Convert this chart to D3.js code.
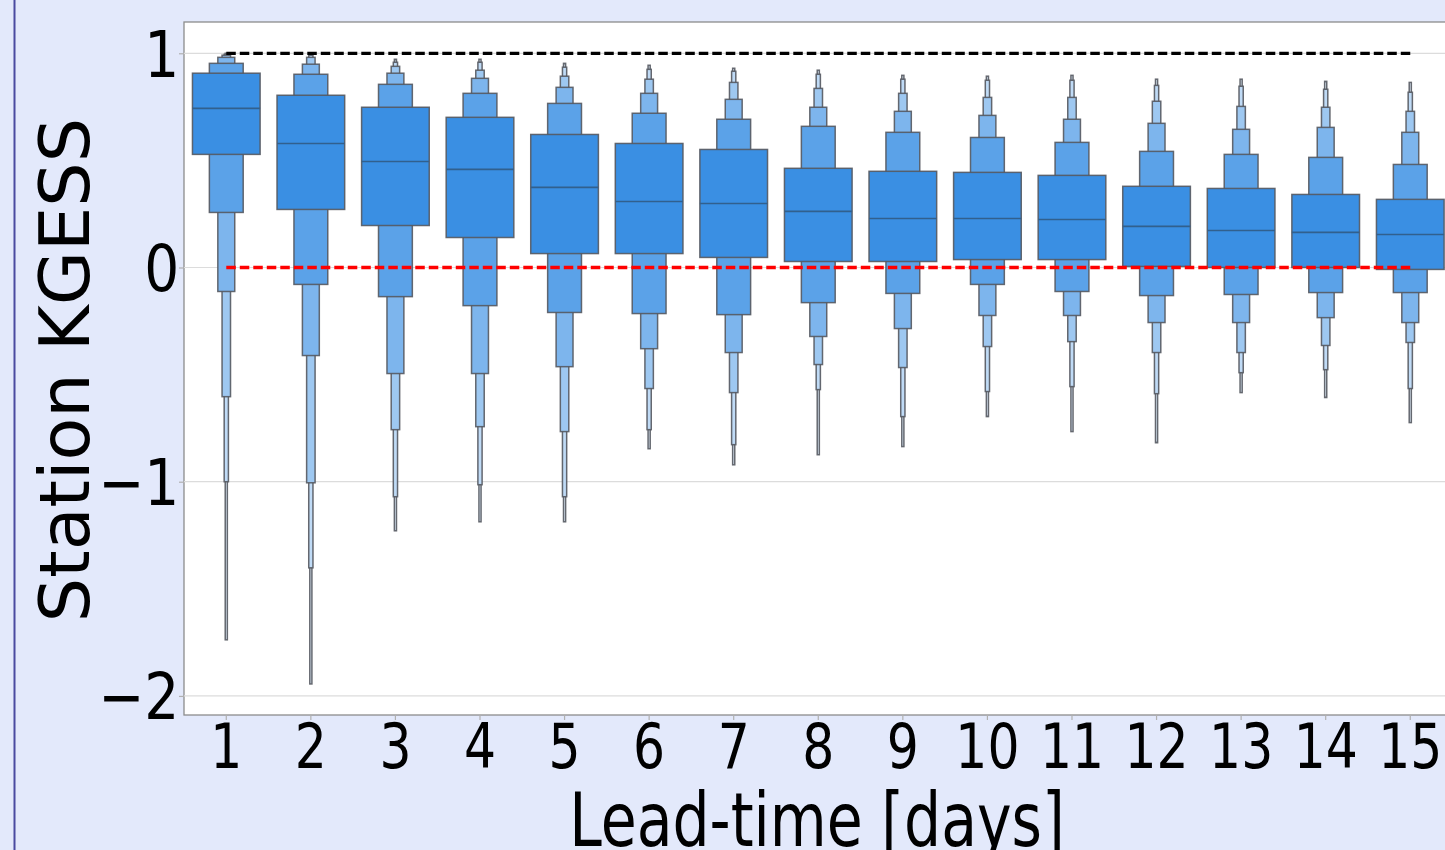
<!DOCTYPE html>
<html>
<head>
<meta charset="utf-8">
<script src="https://cdn.jsdelivr.net/npm/d3@7"></script>
<style>
  body { margin: 0; background: #e3e9fb; }
  svg { display: block; }
  text { font-family: "DejaVu Sans", sans-serif; fill: #000; }
</style>
</head>
<body>
<div id="chart"></div>
<script>
const width = 1445, height = 850;

// lead-time categories
const leadTimes = [1, 2, 3, 4, 5, 6, 7, 8, 9, 10, 11, 12, 13, 14, 15];

// median KGESS per lead-time
const medians = [0.743, 0.579, 0.495, 0.458, 0.374, 0.308, 0.299, 0.262, 0.229, 0.229, 0.224, 0.192, 0.173, 0.164, 0.154];

// upper letter values, level 1 (quartile) .. level 6
const upperLV = [
  [0.907, 0.953, 0.981, 0.991, 0.995, 1.000],
  [0.804, 0.902, 0.949, 0.981, 0.991, 1.000],
  [0.748, 0.855, 0.907, 0.939, 0.958, 0.972],
  [0.701, 0.813, 0.883, 0.921, 0.958, 0.972],
  [0.621, 0.766, 0.841, 0.893, 0.935, 0.953],
  [0.579, 0.720, 0.813, 0.879, 0.925, 0.944],
  [0.551, 0.692, 0.785, 0.864, 0.916, 0.930],
  [0.463, 0.659, 0.748, 0.836, 0.902, 0.921],
  [0.449, 0.631, 0.729, 0.813, 0.879, 0.897],
  [0.444, 0.607, 0.710, 0.794, 0.874, 0.893],
  [0.430, 0.584, 0.692, 0.794, 0.874, 0.897],
  [0.379, 0.542, 0.673, 0.776, 0.850, 0.879],
  [0.369, 0.528, 0.645, 0.752, 0.846, 0.879],
  [0.341, 0.514, 0.654, 0.748, 0.832, 0.869],
  [0.318, 0.481, 0.631, 0.729, 0.818, 0.864]
];

// lower letter values, level 1 (quartile) .. level 6
const lowerLV = [
  [0.528, 0.257, -0.112, -0.603, -1.000, -1.738],
  [0.271, -0.079, -0.411, -1.005, -1.402, -1.944],
  [0.196, -0.136, -0.495, -0.757, -1.070, -1.229],
  [0.140, -0.178, -0.495, -0.743, -1.014, -1.187],
  [0.065, -0.210, -0.463, -0.766, -1.070, -1.187],
  [0.065, -0.215, -0.379, -0.565, -0.757, -0.846],
  [0.047, -0.220, -0.397, -0.584, -0.827, -0.921],
  [0.028, -0.164, -0.322, -0.453, -0.570, -0.874],
  [0.028, -0.121, -0.285, -0.467, -0.696, -0.836],
  [0.037, -0.079, -0.224, -0.369, -0.579, -0.696],
  [0.037, -0.112, -0.224, -0.346, -0.556, -0.766],
  [0.005, -0.131, -0.257, -0.397, -0.589, -0.818],
  [0.000, -0.126, -0.257, -0.397, -0.491, -0.584],
  [0.000, -0.117, -0.234, -0.364, -0.477, -0.607],
  [-0.009, -0.117, -0.257, -0.350, -0.565, -0.724]
];

const yTicks = [-2, -1, 0, 1];
const refLines = [{ value: 1, color: '#000' }, { value: 0, color: '#ff0000' }];

const plot = { left: 184, top: 22, bottom: 715, step: 84.57 };

const svg = d3.select('#chart')
    .append('svg')
    .attr('width', width)
    .attr('height', height);

// left page border
svg.append('line')
    .attr('x1', 14.5).attr('x2', 14.5)
    .attr('y1', 0).attr('y2', height)
    .attr('stroke', '#4a4aa0')
    .attr('stroke-width', 2);

const x = d3.scaleBand()
    .domain(leadTimes)
    .range([plot.left, plot.left + plot.step * leadTimes.length])
    .padding(0);

const y = d3.scaleLinear()
    .domain([-2.089, 1.146])
    .range([plot.bottom, plot.top]);

// white plot area
svg.append('rect')
    .attr('x', plot.left)
    .attr('y', plot.top)
    .attr('width', width - plot.left + 10)
    .attr('height', plot.bottom - plot.top)
    .attr('fill', '#fff')
    .attr('stroke', '#8c8c8c')
    .attr('stroke-width', 1.3);

// horizontal grid
svg.append('g')
    .selectAll('line')
    .data(yTicks)
    .enter().append('line')
    .attr('x1', plot.left).attr('x2', width)
    .attr('y1', d => y(d)).attr('y2', d => y(d))
    .attr('stroke', '#dcdcdc')
    .attr('stroke-width', 1.2);

// boxen colours: full hue for the quartile box, fading to 85% white
const baseColor = '#3a8fe3';
const lightColor = d3.interpolateRgb(baseColor, '#fff')(0.85);
const nLevels = upperLV[0].length;
const levelColor = k => d3.interpolateRgb(baseColor, lightColor)(k / (nLevels - 1));
const fullWidth = x.bandwidth() * 0.8;

const boxes = svg.append('g')
    .selectAll('g')
    .data(leadTimes)
    .enter().append('g')
    .attr('transform', d => `translate(${x(d) + x.bandwidth() / 2},0)`);

boxes.each(function(d, i) {
    const g = d3.select(this);
    // outermost level first so wider boxes sit on top
    for (let k = nLevels - 1; k >= 0; k--) {
        const w = fullWidth * Math.pow(0.5, k);
        g.append('rect')
            .attr('x', -w / 2)
            .attr('width', w)
            .attr('y', y(upperLV[i][k]))
            .attr('height', y(lowerLV[i][k]) - y(upperLV[i][k]))
            .attr('fill', levelColor(k))
            .attr('stroke', '#555960')
            .attr('stroke-opacity', 0.9)
            .attr('stroke-width', 1.5);
    }
    g.append('line')
        .attr('x1', -fullWidth / 2).attr('x2', fullWidth / 2)
        .attr('y1', y(medians[i])).attr('y2', y(medians[i]))
        .attr('stroke', '#31608e')
        .attr('stroke-width', 1.6);
});

// reference lines at KGESS = 1 and 0
const xFirst = x(leadTimes[0]) + x.bandwidth() / 2;
const xLast = x(leadTimes[leadTimes.length - 1]) + x.bandwidth() / 2;
svg.append('g')
    .selectAll('line')
    .data(refLines)
    .enter().append('line')
    .attr('x1', xFirst).attr('x2', xLast)
    .attr('y1', d => y(d.value)).attr('y2', d => y(d.value))
    .attr('stroke', d => d.color)
    .attr('stroke-width', 3.3)
    .attr('stroke-dasharray', '9.5,4');

// x axis
const xAxis = svg.append('g')
    .attr('transform', `translate(0,${plot.bottom})`)
    .call(d3.axisBottom(x).tickSize(5).tickPadding(0));
xAxis.select('.domain').remove();
xAxis.selectAll('line').attr('stroke', '#b0b0b0').attr('stroke-width', 1.2);
xAxis.selectAll('text')
    .attr('font-size', 63)
    .attr('y', 53)
    .attr('dy', 0)
    .attr('transform', 'scale(0.8,1)');

// y axis
const yAxis = svg.append('g')
    .attr('transform', `translate(${plot.left},0)`)
    .call(d3.axisLeft(y).tickValues(yTicks).tickSize(5).tickFormat(d3.format('d')));
yAxis.select('.domain').remove();
yAxis.selectAll('line').attr('stroke', '#b0b0b0').attr('stroke-width', 1.2);
yAxis.selectAll('text')
    .attr('font-size', 64)
    .attr('x', -5.5)
    .attr('dy', '0.36em')
    .attr('transform', 'scale(0.86,1)');

// axis titles
svg.append('text')
    .attr('transform', 'translate(817,846) scale(0.79,1)')
    .attr('text-anchor', 'middle')
    .attr('font-size', 74)
    .text('Lead-time [days]');

svg.append('text')
    .attr('transform', 'translate(89,370) rotate(-90)')
    .attr('text-anchor', 'middle')
    .attr('font-size', 70)
    .text('Station KGESS');
</script>
</body>
</html>
